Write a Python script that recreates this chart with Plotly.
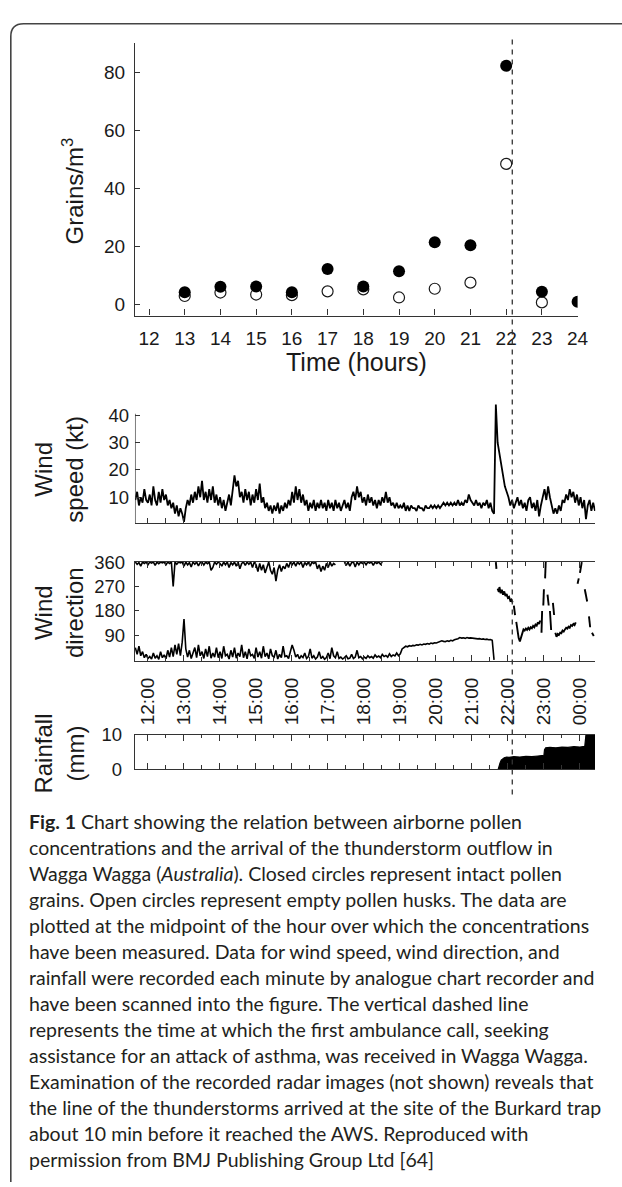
import plotly.graph_objects as go

W, H = 622, 1187
def fx(px): return px / W
def fy(py): return 1 - py / H

# ---------------- data: pollen counts ----------------
hours = [13, 14, 15, 16, 17, 18, 19, 20, 21, 22, 23, 24]
intact_grains = [4.3, 6.2, 6.3, 4.3, 12.3, 6.3, 11.5, 21.5, 20.5, 82.3, 4.5, 1.0]
husk_hours = [13, 14, 15, 16, 17, 18, 19, 20, 21, 22, 23]
empty_husks = [3.0, 4.2, 3.5, 3.3, 4.6, 5.3, 2.5, 5.5, 7.6, 48.5, 0.8]
hour_ticks = [12, 13, 14, 15, 16, 17, 18, 19, 20, 21, 22, 23, 24]

# ---------------- data: wind speed (kt), every 3 min from 11:40 ----------------
ws_11 = [9, 12, 7, 10, 8, 13, 9]
ws_12 = [8, 11, 7, 14, 9, 7, 12, 8, 13, 9, 11, 7, 9, 6, 8, 4, 7, 3, 6, 4]
ws_13 = [1, 6, 9, 7, 11, 8, 12, 9, 14, 10, 16, 9, 12, 8, 13, 9, 14, 8, 11, 7]
ws_14 = [10, 6, 9, 5, 8, 11, 7, 13, 18, 14, 16, 10, 12, 8, 13, 9, 12, 7, 11, 8]
ws_15 = [13, 9, 15, 8, 10, 6, 8, 5, 7, 4, 7, 5, 8, 4, 7, 5, 8, 6, 9, 7]
ws_16 = [12, 8, 14, 9, 13, 8, 11, 7, 9, 5, 8, 6, 9, 5, 8, 6, 9, 6, 8, 5]
ws_17 = [9, 6, 8, 5, 9, 6, 8, 5, 7, 9, 6, 8, 5, 10, 12, 9, 14, 10, 12, 8]
ws_18 = [10, 7, 11, 8, 10, 7, 9, 6, 9, 7, 10, 8, 12, 8, 10, 7, 8, 6, 8, 6]
ws_19 = [7, 6, 8, 5, 7, 5, 7, 6, 6, 5, 7, 6, 6, 5, 7, 6, 6, 7, 6, 7]
ws_20 = [6, 7, 6, 7, 8, 7, 8, 7, 8, 7, 8, 7, 9, 7, 8, 7, 9, 8, 11, 9]
ws_21 = [8, 7, 9, 7, 8, 6, 8, 7, 9, 6, 8, 5, 4, 44, 30, 26, 21, 18, 14, 12]
ws_22 = [10, 7, 9, 6, 8, 10, 7, 9, 6, 8, 5, 9, 10, 6, 8, 5, 9, 3, 7, 10]
ws_23 = [13, 9, 14, 10, 7, 4, 6, 4, 7, 5, 9, 8, 11, 9, 13, 10, 12, 8, 11, 7]
ws_00 = [10, 6, 9, 2, 7, 9, 5, 8, 5]

# ---------------- data: wind direction (deg), every 3 min from 11:40 ----------------
# trace hugging 360 (north, recorded at the top of the chart)
dn_11 = [360, 352, 358, 345, 360, 355, 360]
dn_12 = [350, 360, 356, 360, 348, 360, 354, 360, 357, 360, 350, 360, 355, 360, 270, 360, 352, 360, 357, 360]
dn_13 = [345, 360, 350, 358, 342, 360, 352, 360, 346, 358, 360, 349, 360, 354, 360, 330, 340, 360, 352, 360]
dn_14 = [355, 345, 360, 350, 360, 340, 358, 350, 360, 345, 360, 335, 355, 360, 348, 360, 352, 360, 340, 360]
dn_15 = [350, 325, 355, 330, 350, 320, 345, 360, 330, 315, 340, 290, 330, 350, 325, 345, 335, 355, 340, 360]
dn_16 = [350, 360, 345, 360, 352, 360, 340, 358, 350, 360, 345, 360, 355, 360, 335, 350, 325, 345, 330, 355]
dn_17 = [340, 360, 345, 355, 350, None, None, None, None, 360, 348, 360, 345, 358, 360, 342, 360, 350, 360, 355]
dn_18 = [360, 350, 360, 356, 360, 348, 360, 355, 360, 352, 360]
# trace near 0 deg
dl_11 = [45, 20, 50, 15, 30, 8, 20]
dl_12 = [5, 12, 3, 25, 6, 15, 2, 30, 8, 18, 4, 35, 10, 45, 12, 55, 20, 60, 15, 65]
dl_13 = [150, 40, 10, 35, 5, 25, 45, 8, 55, 15, 30, 5, 40, 12, 50, 6, 25, 10, 45, 8]
dl_14 = [30, 5, 50, 15, 20, 3, 35, 10, 45, 6, 25, 12, 55, 8, 30, 4, 40, 15, 20, 5]
dl_15 = [45, 10, 30, 6, 50, 12, 25, 4, 40, 15, 10, 35, 3, 20, 8, 50, 12, 15, 5, 30]
dl_16 = [55, 35, 10, 20, 4, 15, 8, 25, 5, 12, 40, 6, 15, 3, 10, 30, 5, 12, 2, 8]
dl_17 = [25, 4, 45, 15, 8, 30, 5, 10, 3, 8, 15, 4, 6, 20, 5, 10, 35, 8, 12, 4]
dl_18 = [10, 5, 15, 8, 12, 6, 18, 10, 14, 8, 20, 12, 16, 10, 22, 12, 18, 14, 25, 15]
dl_19 = [22, 40, 45, 50, 48, 52, 50, 53, 52, 55, 54, 57, 55, 58, 57, 60, 58, 62, 60, 63]
dl_20 = [62, 65, 66, 70, 68, 67, 70, 68, 72, 70, 74, 75, 78, 82, 80, 81, 79, 82, 80, 81]
dl_21 = [80, 78, 79, 77, 78, 76, 77, 75, 76, 74, 75, 72, 0]
# after the storm arrival: pen segments (minutes after 21:00, degrees)
storm_segments = [
    ([40, 41], [360, 335]),
    ([43, 45, 46, 48, 50, 52, 54, 56, 58, 60, 62, 64, 66, 68],
     [262, 250, 268, 245, 258, 240, 252, 235, 242, 228, 232, 218, 222, 212]),
    ([70, 72], [200, 165]),
    ([74, 76, 78, 80, 82, 84, 86, 88, 90, 92, 94, 96, 98, 100, 102, 104, 106, 108, 110, 112, 114],
     [140, 100, 80, 68, 85, 105, 112, 108, 115, 110, 118, 112, 120, 116, 125, 120, 130, 126, 138, 132, 145]),
    ([116, 117], [100, 180]),
    ([119, 120], [200, 260]),
    ([122, 123], [300, 360]),
    ([126, 128], [240, 200]),
    ([130, 132], [180, 110]),
    ([135, 137], [210, 165]),
    ([139, 141, 143, 145, 147, 149, 151, 153, 155, 157, 159, 161, 163, 165, 167, 169, 171, 173],
     [100, 85, 95, 92, 100, 98, 108, 104, 112, 118, 115, 122, 118, 128, 125, 132, 128, 138]),
    ([176, 178], [280, 300]),
    ([180, 182, 183], [320, 345, 360]),
    ([188, 190, 192], [260, 230, 215]),
    ([195, 197], [160, 120]),
    ([200, 203], [100, 88]),
]

# ---------------- data: cumulative rainfall (mm) ----------------
rain_min = [44, 45, 47, 49, 51, 54, 58, 62, 70, 80, 90, 100, 110, 118, 120,
            121, 123, 130, 140, 150, 160, 170, 180, 188, 189, 190, 205]
rain_mm = [0, 0.8, 1.8, 2.6, 3.0, 3.3, 3.5, 3.4, 3.6, 3.5, 3.7, 3.6, 3.8, 3.8, 4.0,
           5.6, 6.2, 6.3, 6.2, 6.4, 6.3, 6.5, 6.4, 6.6, 8.5, 10, 10]

clock_ticks = [12, 13, 14, 15, 16, 17, 18, 19, 20, 21, 22, 23, 24]
clock_labels = ["12:00", "13:00", "14:00", "15:00", "16:00", "17:00", "18:00",
                "19:00", "20:00", "21:00", "22:00", "23:00", "00:00"]

caption_lines = [
    "<b>Fig. 1</b> Chart showing the relation between airborne pollen",
    "concentrations and the arrival of the thunderstorm outflow in",
    "Wagga Wagga (<i>Australia</i>). Closed circles represent intact pollen",
    "grains. Open circles represent empty pollen husks. The data are",
    "plotted at the midpoint of the hour over which the concentrations",
    "have been measured. Data for wind speed, wind direction, and",
    "rainfall were recorded each minute by analogue chart recorder and",
    "have been scanned into the figure. The vertical dashed line",
    "represents the time at which the first ambulance call, seeking",
    "assistance for an attack of asthma, was received in Wagga Wagga.",
    "Examination of the recorded radar images (not shown) reveals that",
    "the line of the thunderstorms arrived at the site of the Burkard trap",
    "about 10 min before it reached the AWS. Reproduced with",
    "permission from BMJ Publishing Group Ltd [64]",
]

# ---------------- assemble series ----------------
START = 11 + 40 / 60
STEP = 3 / 60

ws = ws_11 + ws_12 + ws_13 + ws_14 + ws_15 + ws_16 + ws_17 + ws_18 + ws_19 + ws_20 + ws_21 + ws_22 + ws_23 + ws_00
ws_t = [START + i * STEP for i in range(len(ws))]
dn = dn_11 + dn_12 + dn_13 + dn_14 + dn_15 + dn_16 + dn_17 + dn_18
dn_t = [START + i * STEP for i in range(len(dn))]
dl = dl_11 + dl_12 + dl_13 + dl_14 + dl_15 + dl_16 + dl_17 + dl_18 + dl_19 + dl_20 + dl_21
dl_t = [START + i * STEP for i in range(len(dl))]
ds_t, ds_v = [], []
for tt, vv in storm_segments:
    ds_t += [21 + m / 60 for m in tt] + [None]
    ds_v += list(vv) + [None]
rain_t = [21 + m / 60 for m in rain_min]

INK = "#1a1a1a"
AX = "#333333"
FONT = "Liberation Sans, Arial, sans-serif"

fig = go.Figure()

# top panel
fig.add_trace(go.Scatter(x=husk_hours, y=empty_husks, mode="markers", xaxis="x", yaxis="y",
                         marker=dict(symbol="circle", size=11, color="white",
                                     line=dict(color=INK, width=1.2))))
fig.add_trace(go.Scatter(x=hours, y=intact_grains, mode="markers", xaxis="x", yaxis="y",
                         marker=dict(symbol="circle", size=12, color="black",
                                     line=dict(color="black", width=0))))
# wind speed
fig.add_trace(go.Scatter(x=ws_t, y=ws, mode="lines", xaxis="x2", yaxis="y2",
                         line=dict(color="black", width=1.8)))
# wind direction
fig.add_trace(go.Scatter(x=dn_t, y=dn, mode="lines", xaxis="x3", yaxis="y3", connectgaps=False,
                         line=dict(color="black", width=1.6)))
fig.add_trace(go.Scatter(x=dl_t, y=dl, mode="lines", xaxis="x3", yaxis="y3",
                         line=dict(color="black", width=1.6)))
fig.add_trace(go.Scatter(x=ds_t, y=ds_v, mode="lines", xaxis="x3", yaxis="y3", connectgaps=False,
                         line=dict(color="black", width=1.9)))
# rainfall
fig.add_trace(go.Scatter(x=rain_t, y=rain_mm, mode="lines", xaxis="x4", yaxis="y4", fill="tozeroy",
                         fillcolor="black", line=dict(color="black", width=1.2)))

T0 = 12 + (137.4 - 150) / 36.7
T1 = 12 + (606 - 150) / 36.7
XD_LOW = [fx(137.4), fx(606)]

common_x = dict(showgrid=False, zeroline=False, showline=True, linecolor=AX, linewidth=1.3,
                tickcolor=AX, tickwidth=1.2)
common_y = dict(showgrid=False, zeroline=False, tickcolor=AX, tickwidth=1.2,
                tickfont=dict(family=FONT, size=18.5, color=INK))

fig.update_layout(
    width=W, height=H, margin=dict(l=0, r=0, t=0, b=0),
    paper_bgcolor="white", plot_bgcolor="white", showlegend=False,
    font=dict(family=FONT, color=INK),
    xaxis=dict(common_x, domain=[fx(137.4), fx(588)], range=[11.607, 24], anchor="y",
               tickvals=hour_ticks, ticks="inside", ticklen=6,
               tickfont=dict(family=FONT, size=19, color=INK), ticklabelstandoff=6),
    yaxis=dict(common_y, domain=[fy(310), fy(33)], range=[-3.72, 90], anchor="x",
               showline=True, linecolor=AX, linewidth=1.3,
               tickvals=[0, 20, 40, 60, 80], ticks="inside", ticklen=5,
               tickfont=dict(family=FONT, size=19, color=INK), ticklabelstandoff=5),
    xaxis2=dict(common_x, domain=XD_LOW, range=[T0, T1], anchor="y2",
                tickvals=[12 + 0.5 * k for k in range(25)], ticks="inside", ticklen=5,
                showticklabels=False),
    yaxis2=dict(common_y, domain=[fy(521.7), fy(400)], range=[0.4, 44.2], anchor="x2",
                showline=False, tickvals=[10, 20, 30, 40], ticks="inside", ticklen=5,
                ticklabelstandoff=5),
    xaxis3=dict(common_x, domain=XD_LOW, range=[T0, T1], anchor="y3", mirror="ticks",
                tickvals=clock_ticks, ticktext=clock_labels, tickangle=-90,
                ticks="inside", ticklen=6, ticklabelstandoff=8,
                minor=dict(tickvals=[12.5 + k for k in range(12)], ticks="inside", ticklen=3.5,
                           tickcolor=AX, tickwidth=1.2),
                tickfont=dict(family=FONT, size=19, color=INK)),
    yaxis3=dict(common_y, domain=[fy(661.7), fy(561)], range=[-4.3, 360], anchor="x3",
                showline=True, linecolor=AX, linewidth=1.3,
                tickvals=[90, 180, 270, 360], ticks="inside", ticklen=4, ticklabelstandoff=5),
    xaxis4=dict(common_x, domain=XD_LOW, range=[T0, T1], anchor="y4", mirror="ticks",
                tickvals=clock_ticks, ticks="inside", ticklen=6, showticklabels=False,
                minor=dict(tickvals=[12.5 + k for k in range(12)], ticks="inside", ticklen=3.5,
                           tickcolor=AX, tickwidth=1.2)),
    yaxis4=dict(common_y, domain=[fy(771.7), fy(736.7)], range=[0, 10], anchor="x4",
                showline=True, linecolor=AX, linewidth=1.3, tickvals=[0, 10], ticks="",
                ticklabelstandoff=8),
)

shapes = []
# wind speed y-axis line (ends at 40 kt mark)
shapes.append(dict(type="line", xref="x2", yref="y2", x0=T0, x1=T0, y0=0.4, y1=40.6,
                   line=dict(color=AX, width=1.3)))
# vertical dashed line (first ambulance call)
shapes.append(dict(type="line", xref="paper", yref="paper", x0=fx(521.5), x1=fx(521.5),
                   y0=fy(29), y1=fy(798), line=dict(color="#333", width=1.3, dash="5px,5px")))
# rounded frame
r = 13
frame_path = (f"M {fx(11)} {fy(H + 5)} L {fx(11)} {fy(13 + r)} "
              f"Q {fx(11)} {fy(13)} {fx(11 + r)} {fy(13)} L {fx(W + 20)} {fy(13)}")
shapes.append(dict(type="path", xref="paper", yref="paper", path=frame_path,
                   line=dict(color="#444", width=1.6)))
fig.update_layout(shapes=shapes)

ann = []
TITLE = dict(family=FONT, size=24, color=INK)
ann.append(dict(text="Grains/m<sup>3</sup>", x=fx(74), y=fy(183), xref="paper", yref="paper",
                textangle=-90, showarrow=False, font=TITLE, xanchor="center", yanchor="middle"))
ann.append(dict(text="Time (hours)", x=fx(363), y=fy(357), xref="paper", yref="paper",
                showarrow=False, font=dict(family=FONT, size=25, color=INK),
                xanchor="center", yanchor="middle"))
for txt, yc in [("Wind<br>speed (kt)", 466), ("Wind<br>direction", 612), ("Rainfall<br>(mm)", 756)]:
    ann.append(dict(text=txt, x=fx(60), y=fy(yc), xref="paper", yref="paper", textangle=-90,
                    showarrow=False, font=TITLE, xanchor="center", yanchor="middle", align="center"))
for i, line in enumerate(caption_lines):
    ann.append(dict(text=line, x=fx(27), y=fy(825 + 26.5 * i), xref="paper", yref="paper",
                    showarrow=False, xanchor="left", yanchor="middle",
                    font=dict(family="Lato, sans-serif", size=19.5, color="#231f20")))
fig.update_layout(annotations=ann)

fig.write_html(
    "out.html",
    config={"displayModeBar": False},
    post_script=("document.body.style.margin='0';document.body.style.padding='0';"
                 "var d=document.getElementById('{plot_id}');"
                 "d.style.position='absolute';d.style.left='0px';d.style.top='0px';"),
)
